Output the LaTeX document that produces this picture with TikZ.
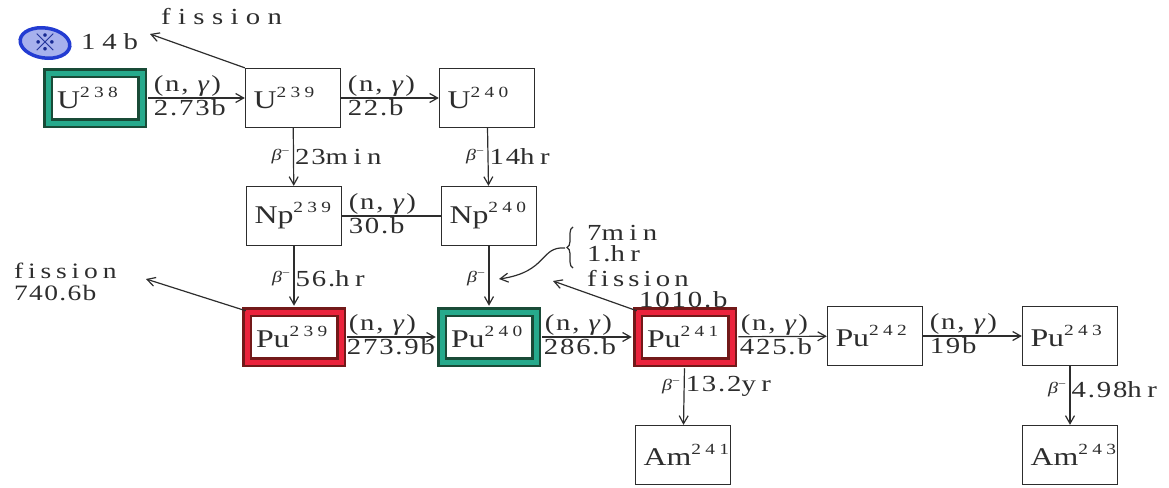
\documentclass[tikz,border=0pt]{standalone}
\usepackage{fontspec}
\setmainfont{Liberation Serif}[FakeStretch=1.25]
\newfontfamily\cjk{Noto Sans CJK JP}
\usetikzlibrary{arrows.meta,decorations.pathreplacing,shapes.geometric}

\definecolor{ink}{RGB}{45,45,45}
\definecolor{tealband}{RGB}{38,170,140}
\definecolor{tealedge}{RGB}{25,75,55}
\definecolor{redband}{RGB}{235,35,60}
\definecolor{rededge}{RGB}{115,25,25}
\definecolor{markblue}{RGB}{35,60,210}

% nuclide symbol with raised mass number
\newcommand\iso[2]{#1\raisebox{11pt}{\fontsize{15.5}{15.5}\selectfont\addfontfeature{LetterSpace=28}#2}}
\newcommand\ngam{(n,\hspace*{9pt}\textit{γ})}
\newcommand\betam{\textit{β}\textsuperscript{−}}
% time units are set with wide letter spacing
\newcommand\tunit[1]{{\addfontfeature{LetterSpace=24}#1}}

\tikzset{
  box/.style={draw=ink, line width=1.3pt, minimum height=59pt, text width=79pt,
    inner xsep=8pt, inner ysep=0pt, align=left, text=ink,
    font=\fontsize{25.5}{25.5}\selectfont},
  hlgreen/.style={box, draw=tealedge, double=tealband, double distance=5pt,
    line width=2.5pt, minimum height=50pt, text width=76pt, inner xsep=9pt},
  hlred/.style={hlgreen, draw=rededge, double=redband},
  lbl/.style={font=\fontsize{23}{23}\selectfont\addfontfeature{LetterSpace=8},
    inner sep=1pt, text=ink},
  betalbl/.style={font=\fontsize{16}{16}\selectfont, inner sep=3pt, text=ink},
  arr/.style={draw=ink, line width=1.2pt, -{Straight Barb[length=8pt,width=9pt]}},
  link/.style={draw=ink, line width=1.2pt},
}

\begin{document}
\begin{tikzpicture}[x=1pt, y=-1pt]
\useasboundingbox (0,0) rectangle (1169,487);

% nuclide boxes
\node[hlgreen] (u238) at (95,98) {\iso{U}{238}};
\node[box] (u239) at (293,98) {\iso{U}{239}};
\node[box] (u240) at (487,98) {\iso{U}{240}};
\node[box] (np239) at (294,216) {\iso{Np}{239}};
\node[box] (np240) at (489,216) {\iso{Np}{240}};
\node[hlred] (pu239) at (294,337) {\iso{Pu}{239}};
\node[hlgreen] (pu240) at (489,337) {\iso{Pu}{240}};
\node[hlred] (pu241) at (685,337) {\iso{Pu}{241}};
\node[box] (pu242) at (875,336) {\iso{Pu}{242}};
\node[box] (pu243) at (1070,336) {\iso{Pu}{243}};
\node[box] (am241) at (683,455) {\raisebox{-8pt}{\iso{Am}{241}}};
\node[box] (am243) at (1070,455) {\raisebox{-8pt}{\iso{Am}{243}}};

% neutron capture (n, gamma)
\draw[arr, shorten <=5pt] (u238) -- (u239)
  node[pos=0, anchor=south west, lbl, xshift=9pt] (c1a) {\ngam}
  node[pos=0, anchor=north west, lbl, xshift=9pt] (c1b) {2.73b};
\draw[arr] (u239) -- (u240)
  node[pos=0, anchor=south west, lbl, xshift=5pt] (c2a) {\ngam}
  node[pos=0, anchor=north west, lbl, xshift=5pt] (c2b) {22.b};
\draw[link] (np239) -- (np240)
  node[pos=0, anchor=south west, lbl, xshift=5pt] (c3a) {\ngam}
  node[pos=0, anchor=north west, lbl, xshift=5pt] (c3b) {30.b};
\draw[arr, shorten <=5pt, shorten >=5pt] (pu239) -- (pu240)
  node[pos=0, anchor=south west, lbl, xshift=5pt] (c4a) {\ngam}
  node[pos=0, anchor=north west, lbl, xshift=3pt] (c4b) {273.9b};
\draw[arr, shorten <=5pt, shorten >=5pt] (pu240) -- (pu241)
  node[pos=0, anchor=south west, lbl, xshift=6pt] (c5a) {\ngam}
  node[pos=0, anchor=north west, lbl, xshift=5pt] (c5b) {286.b};
\draw[arr, shorten <=5pt] (pu241) -- (pu242)
  node[pos=0, anchor=south west, lbl, xshift=6pt] (c6a) {\ngam}
  node[pos=0, anchor=north west, lbl, xshift=5pt] (c6b) {425.b};
\draw[arr] (pu242) -- (pu243)
  node[pos=0, anchor=south west, lbl, xshift=5pt] (c7a) {\ngam}
  node[pos=0, anchor=north west, lbl, xshift=5pt] (c7b) {19b};

% beta decays
\draw[arr] (u239) -- (np239)
  node[midway, left, betalbl] (b1a) {\betam}
  node[midway, right, lbl] (b1b) {23\tunit{min}};
\draw[arr] (u240) -- (np240)
  node[midway, left, betalbl] (b2a) {\betam}
  node[midway, right, lbl] (b2b) {14\tunit{hr}};
\draw[arr, shorten >=5pt] (np239) -- (pu239)
  node[midway, left, betalbl] (b3a) {\betam}
  node[midway, right, lbl] (b3b) {56.\tunit{hr}};
\draw[arr, shorten >=5pt] (np240) -- (pu240)
  node[midway, left, betalbl] (b4a) {\betam};
\draw[arr, shorten <=5pt] (pu241) -- (am241)
  node[pos=0.38, left, betalbl] (b5a) {\betam}
  node[pos=0.38, right, lbl] (b5b) {13.2\tunit{yr}};
\draw[arr] (pu243) -- (am243)
  node[pos=0.4, left, betalbl] (b6a) {\betam}
  node[pos=0.4, right, lbl] (b6b) {4.98\tunit{hr}};

% Np-240 half-lives with brace
\draw[link, decorate, decoration={brace, amplitude=6pt}] (573,268) -- (573,227);
\coordinate (bt) at (565,248);
\node[lbl, anchor=west] (h1) at (586,233) {7\tunit{min}};
\node[lbl, anchor=west] (h2) at (586,254) {1.\tunit{hr}};
\coordinate (ht) at (499,279);
\draw[arr] (bt) .. controls (540,246) and (548,272) .. (ht);

% fission branches
\coordinate (f1) at (150,34);
\draw[arr] (u239.north west) -- (f1);
\node[lbl, anchor=west, font=\fontsize{23}{23}\selectfont\addfontfeature{LetterSpace=32}] (f1a) at (160,17) {fission};
\node[lbl, anchor=west, font=\fontsize{23}{23}\selectfont\addfontfeature{LetterSpace=30}] (f1b) at (80,42) {14b};
\node[ellipse, draw=markblue, line width=3.5pt, minimum width=50pt, minimum height=30pt,
      inner sep=0pt, fill=markblue!40, rotate=-8] (mark) at (45,43) {};
\node[text=markblue!70!black, inner sep=0pt, font=\cjk\fontsize{24}{24}\selectfont\bfseries] (markglyph) at (mark.center) {※};

\coordinate (f2) at (146,279);
\draw[arr] (pu239.north west) -- (f2);
\node[lbl, inner sep=0pt, anchor=west, font=\fontsize{22}{22}\selectfont\addfontfeature{LetterSpace=22}] (f2a) at (14,271) {fission};
\node[lbl, inner sep=0pt, anchor=west, font=\fontsize{22}{22}\selectfont\addfontfeature{LetterSpace=6}] (f2b) at (14,293) {740.6b};

\coordinate (f3) at (553,281);
\draw[arr] (pu241.north west) -- (f3);
\node[lbl, inner sep=0pt, anchor=west, font=\fontsize{23}{23}\selectfont\addfontfeature{LetterSpace=18}] (f3a) at (587,279) {fission};
\node[lbl, inner sep=0pt, anchor=west] (f3b) at (639,300) {1010.b};
\end{tikzpicture}
\end{document}
